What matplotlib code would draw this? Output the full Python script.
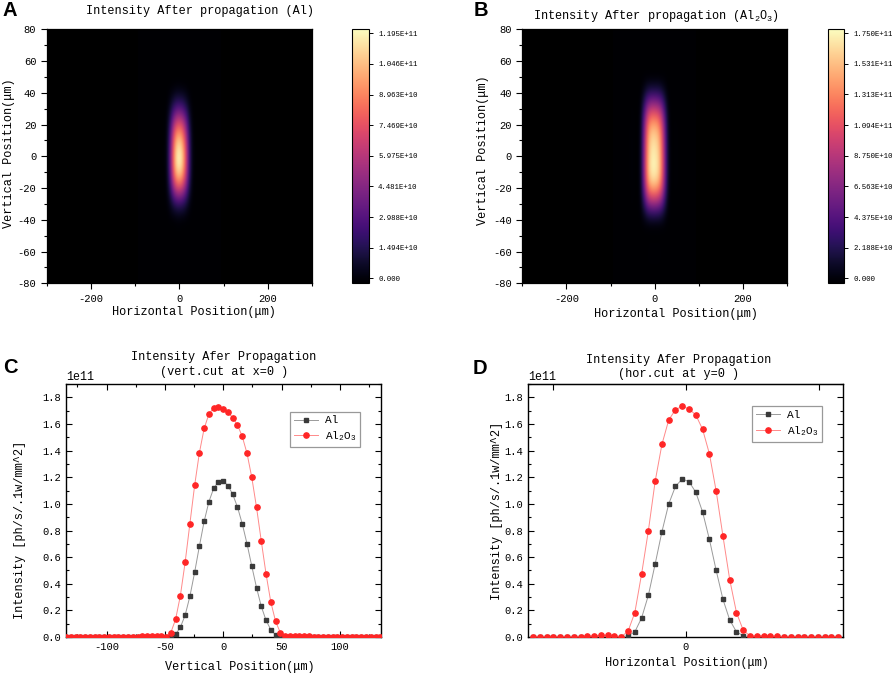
import numpy as np
import matplotlib
matplotlib.use("Agg")
import matplotlib.pyplot as plt
from matplotlib.ticker import MultipleLocator, FixedLocator
from matplotlib.colors import Normalize
from matplotlib.cm import ScalarMappable

plt.rcParams['font.family'] = ['Liberation Mono', 'DejaVu Sans Mono']
plt.rcParams['mathtext.fontset'] = 'custom'
plt.rcParams['mathtext.rm'] = 'Liberation Mono'
plt.rcParams['mathtext.it'] = 'Liberation Mono'
plt.rcParams['axes.unicode_minus'] = False

# ---------------- data ----------------
step_um = 4.08
# vertical cut (panel C): sample index k = -33 .. 33
v_index = np.arange(-33, 34)
v_al = [0]*22 + [0.005, 0.02, 0.073, 0.163, 0.305, 0.486, 0.683, 0.869, 1.017, 1.117, 1.167,
                 1.172,
                 1.137, 1.072, 0.976, 0.851, 0.701, 0.533, 0.371, 0.230, 0.125, 0.055, 0.015] + [0]*22
v_al2o3 = ([0.001]*16 + [0.004, 0.008, 0.010, 0.008, 0.005, 0.003,
            0.033, 0.133, 0.310, 0.560, 0.851, 1.139, 1.385, 1.567, 1.675, 1.722, 1.730,
            1.713,
            1.688, 1.648, 1.593, 1.507, 1.380, 1.200, 0.974, 0.721, 0.474, 0.263, 0.118,
            0.033, 0.005, 0.004, 0.006, 0.007, 0.006, 0.004, 0.002] + [0.001]*14)
# horizontal cut (panel D): sample index j = -22.5 .. 22.5
h_index = np.arange(-22.5, 23.0, 1.0)
h_al = [0]*14 + [0.01, 0.038, 0.143, 0.313, 0.548, 0.791, 0.999, 1.132, 1.187,
                 1.167, 1.087, 0.939, 0.734, 0.501, 0.283, 0.128, 0.038, 0.01] + [0]*14
h_al2o3 = ([0.001]*8 + [0.004, 0.008, 0.015, 0.012, 0.004, 0.002,
           0.043, 0.183, 0.473, 0.798, 1.169, 1.447, 1.630, 1.708, 1.733,
           1.713, 1.668, 1.560, 1.377, 1.097, 0.759, 0.431, 0.183, 0.050,
           0.008, 0.006, 0.010, 0.008, 0.004] + [0.001]*9)
scale = 1e11

cb_ticks_al = [0, 1.494e10, 2.988e10, 4.481e10, 5.975e10, 7.469e10, 8.963e10, 1.046e11, 1.195e11]
cb_labels_al = ['0.000', '1.494E+10', '2.988E+10', '4.481E+10', '5.975E+10',
                '7.469E+10', '8.963E+10', '1.046E+11', '1.195E+11']
cb_ticks_ox = [0, 2.188e10, 4.375e10, 6.563e10, 8.750e10, 1.094e11, 1.313e11, 1.531e11, 1.750e11]
cb_labels_ox = ['0.000', '2.188E+10', '4.375E+10', '6.563E+10', '8.750E+10',
                '1.094E+11', '1.313E+11', '1.531E+11', '1.750E+11']

x_v = v_index * step_um
x_h = h_index * step_um
v_al = np.array(v_al) * scale
v_al2o3 = np.array(v_al2o3) * scale
h_al = np.array(h_al) * scale
h_al2o3 = np.array(h_al2o3) * scale

fig = plt.figure(figsize=(8.92, 6.76), dpi=100)
W, H = 892, 676

def box(l, t, r, b):
    return [l / W, 1 - b / H, (r - l) / W, (b - t) / H]

def ftext(x, y, s, **kw):
    fig.text(x / W, 1 - y / H, s, ha='center', va='center', **kw)

lab_fs = 8.6
tick_fs = 7.6

# ---------------- heatmaps ----------------
def heat(axbox, cbbox, vprof, hprof, cticks, clabels):
    ax = fig.add_axes(box(*axbox))
    ax.set_facecolor('black')
    img = np.outer(vprof, hprof) / hprof.max()
    cmax = cticks[-1]
    norm_img = Normalize(0, cmax * 1.016)
    dx = step_um / 2
    ax.imshow(img, origin='lower', cmap='magma', norm=norm_img, aspect='auto',
              interpolation='bicubic',
              extent=[x_h[0] - dx, x_h[-1] + dx, x_v[0] - dx, x_v[-1] + dx])
    ax.set_xlim(-300, 300)
    ax.set_ylim(-80, 80)
    ax.xaxis.set_major_locator(MultipleLocator(200))
    ax.xaxis.set_minor_locator(MultipleLocator(100))
    ax.yaxis.set_major_locator(MultipleLocator(20))
    ax.yaxis.set_minor_locator(MultipleLocator(10))
    ax.tick_params(which='both', direction='out', labelsize=tick_fs, width=0.8)
    ax.tick_params(which='major', length=4)
    ax.tick_params(which='minor', length=2.5)
    for s in ax.spines.values():
        s.set_linewidth(0.9)
    cax = fig.add_axes(box(*cbbox))
    sm = ScalarMappable(norm=Normalize(-0.02 * cmax, 1.016 * cmax), cmap='magma')
    cb = fig.colorbar(sm, cax=cax)
    cb.set_ticks(cticks)
    cb.set_ticklabels(clabels)
    cax.tick_params(labelsize=5.3, length=3, width=0.7, direction='out')
    cb.outline.set_linewidth(0.8)
    return ax

axA = heat((46.7, 29.3, 312, 283.3), (352, 29.3, 369, 283.3), v_al, h_al,
           cb_ticks_al, cb_labels_al)
axB = heat((522.3, 29.3, 787, 283.3), (827.7, 29.3, 844.3, 283.3), v_al2o3, h_al2o3,
           cb_ticks_ox, cb_labels_ox)

ftext(200, 11, 'Intensity After propagation (Al)', fontsize=lab_fs)
ftext(656, 16, 'Intensity After propagation (Al$_2$O$_3$)', fontsize=lab_fs)
ftext(194, 312, 'Horizontal Position(μm)', fontsize=lab_fs)
ftext(676, 314, 'Horizontal Position(μm)', fontsize=lab_fs)
ftext(9, 153, 'Vertical Position(μm)', fontsize=lab_fs, rotation=90)
ftext(483, 150, 'Vertical Position(μm)', fontsize=lab_fs, rotation=90)

# ---------------- line cuts ----------------
def cut(axbox, x, al, ox, legend_anchor):
    ax = fig.add_axes(box(*axbox))
    ax.plot(x, al, color='#9a9a9a', lw=0.7, marker='s', ms=3.4, mfc='#3a3a3a',
            mec='#3a3a3a', label='Al', zorder=3)
    ax.plot(x, ox, color='#ff8a8a', lw=0.7, marker='o', ms=3.8, mfc='#ff2626',
            mec='#ff2626', label='Al$_2$O$_3$', zorder=4)
    ax.set_ylim(0, 1.903e11)
    ax.yaxis.set_major_locator(MultipleLocator(0.2e11))
    ax.yaxis.set_minor_locator(MultipleLocator(0.1e11))
    ax.tick_params(which='both', direction='in', labelsize=tick_fs, width=0.8)
    ax.tick_params(which='major', length=4)
    ax.tick_params(which='minor', length=2.2)
    ax.yaxis.get_offset_text().set_fontsize(tick_fs + 0.8)
    for s in ax.spines.values():
        s.set_linewidth(1.0)
    leg = ax.legend(loc='upper right', bbox_to_anchor=legend_anchor, fontsize=8,
                    fancybox=False, edgecolor='#999999', framealpha=1,
                    handlelength=2.2, borderpad=0.35, labelspacing=0.35,
                    handletextpad=0.6)
    leg.get_frame().set_linewidth(0.9)
    return ax

axC = cut((65.7, 383.7, 380.7, 637), x_v, v_al, v_al2o3, (0.952, 0.912))
axC.set_xlim(-135, 135)
axC.xaxis.set_major_locator(MultipleLocator(50))
axC.xaxis.set_minor_locator(MultipleLocator(25))
axC.tick_params(which='both', top=True, right=True)

axD = cut((528.3, 383.7, 843, 637), x_h, h_al, h_al2o3, (0.951, 0.932))
axD.set_xlim(-94.7, 94.7)
axD.set_xticks([0])
axD.tick_params(which='both', right=True, top=False)
secD = axD.secondary_xaxis('top')
secD.set_xticks([-80, 0, 80])
secD.tick_params(direction='in', length=4, width=0.8, labeltop=False)

ftext(224, 357, 'Intensity Afer Propagation', fontsize=lab_fs)
ftext(224, 371.5, '(vert.cut at x=0 )', fontsize=lab_fs)
ftext(679, 360, 'Intensity Afer Propagation', fontsize=lab_fs)
ftext(679, 374.5, '(hor.cut at y=0 )', fontsize=lab_fs)
ftext(240, 667, 'Vertical Position(μm)', fontsize=lab_fs)
ftext(687, 663, 'Horizontal Position(μm)', fontsize=lab_fs)
ftext(20.5, 530, 'Intensity [ph/s/.1w/mm^2]', fontsize=lab_fs, rotation=90)
ftext(497, 511, 'Intensity [ph/s/.1w/mm^2]', fontsize=lab_fs, rotation=90)

# panel letters
for lx, ly, s in [(10, 10, 'A'), (481, 10, 'B'), (10, 367, 'C'), (480, 368, 'D')]:
    fig.text(lx / W, 1 - ly / H, s, ha='center', va='center', fontsize=14.5,
             fontweight='bold', family=['Liberation Sans', 'DejaVu Sans'])

fig.savefig('out.png', dpi=100)
